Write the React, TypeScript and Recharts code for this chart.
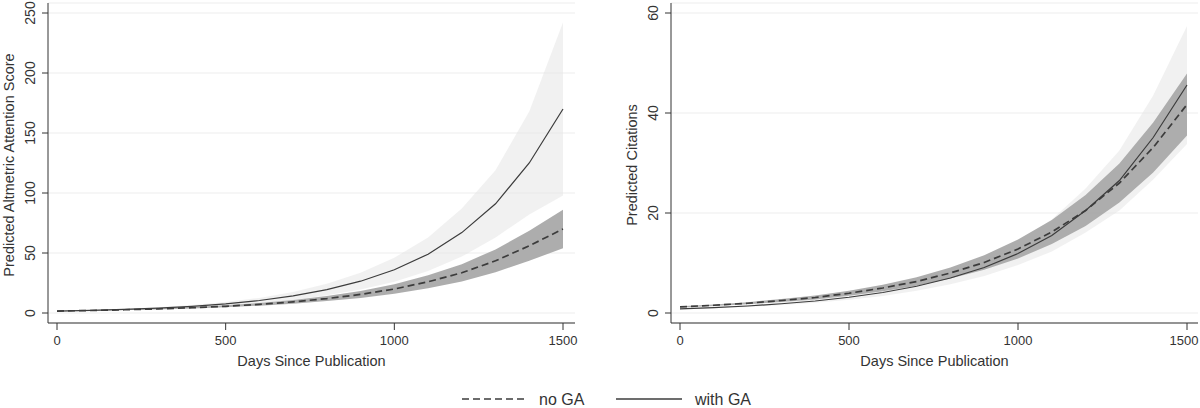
import { ComposedChart, Area, Line, XAxis, YAxis, CartesianGrid } from 'recharts';

// days since publication, margins evaluated every 100 days
const days = [0, 100, 200, 300, 400, 500, 600, 700, 800, 900, 1000, 1100, 1200, 1300, 1400, 1500];

// altmetric attention score
const altNoGa = [1.6, 2.1, 2.7, 3.4, 4.4, 5.6, 7.2, 9.3, 12, 15.5, 20, 26, 33.5, 43.5, 56, 70];
const altNoGaLo = [1.45, 1.9, 2.4, 3.0, 3.8, 4.8, 6.1, 7.8, 9.9, 12.6, 16, 20.6, 26.3, 34, 43.5, 54];
const altNoGaHi = [1.75, 2.3, 3.0, 3.8, 5.0, 6.4, 8.3, 10.8, 14.1, 18.4, 24, 31.4, 40.7, 53, 68.5, 86];
const altGa = [1.6, 2.2, 3.0, 4.1, 5.6, 7.6, 10.4, 14.2, 19.5, 26.5, 36, 49, 67, 91, 125, 170];
const altGaLo = [1.4, 1.85, 2.5, 3.4, 4.6, 6.1, 8.2, 10.9, 14.7, 19.5, 26, 35, 47, 63, 82, 98];
const altGaHi = [1.8, 2.55, 3.5, 4.8, 6.6, 9.1, 12.6, 17.5, 24.3, 33.5, 46, 63, 87, 119, 168, 242];

// citations
const citNoGa = [1.22, 1.55, 1.95, 2.5, 3.1, 3.95, 5.0, 6.3, 8.0, 10.1, 12.8, 16.2, 20.5, 26.0, 33.1, 41.7];
const citNoGaLo = [1.1, 1.38, 1.73, 2.2, 2.72, 3.45, 4.35, 5.45, 6.9, 8.65, 10.9, 13.8, 17.4, 22.1, 28.1, 35.5];
const citNoGaHi = [1.34, 1.72, 2.17, 2.8, 3.48, 4.45, 5.65, 7.15, 9.1, 11.55, 14.7, 18.6, 23.6, 29.9, 38.1, 47.9];
const citGa = [0.83, 1.08, 1.4, 1.85, 2.4, 3.15, 4.1, 5.35, 7.0, 9.1, 11.9, 15.5, 20.5, 26.5, 35.1, 45.6];
const citGaLo = [0.73, 0.94, 1.21, 1.59, 2.04, 2.65, 3.42, 4.43, 5.75, 7.4, 9.6, 12.3, 16.1, 20.5, 26.7, 33.8];
const citGaHi = [0.93, 1.22, 1.59, 2.11, 2.76, 3.65, 4.78, 6.27, 8.25, 10.8, 14.2, 18.7, 24.9, 32.5, 43.5, 57.4];

const xTicks = [0, 500, 1000, 1500];
const altTicks = [0, 50, 100, 150, 200, 250];
const citTicks = [0, 20, 40, 60];

const font = '"Liberation Sans", Arial, sans-serif';
const ink = '#333';

const buildRows = (noGa: number[], noLo: number[], noHi: number[], ga: number[], gaLo: number[], gaHi: number[]) =>
  days.map((day, i) => ({
    day,
    noGa: noGa[i],
    noGaBand: [noLo[i], noHi[i]],
    ga: ga[i],
    gaBand: [gaLo[i], gaHi[i]],
  }));

const altRows = buildRows(altNoGa, altNoGaLo, altNoGaHi, altGa, altGaLo, altGaHi);
const citRows = buildRows(citNoGa, citNoGaLo, citNoGaHi, citGa, citGaLo, citGaHi);

const YTick = (props: any) => {
  const { x, y, payload } = props;
  return (
    <text
      x={x}
      y={y}
      transform={`rotate(-90, ${x}, ${y})`}
      textAnchor="middle"
      fill={ink}
      fontSize={14}
      fontFamily={font}
    >
      {payload.value}
    </text>
  );
};

// keeps the last label inside the panel's right edge
const XTick = (props: any) => {
  const { x, y, payload, maxX } = props;
  const half = (String(payload.value).length * 0.556 * 13) / 2;
  const overflow = x + half > maxX;
  return (
    <text
      x={overflow ? maxX : x}
      y={y}
      dy="0.71em"
      textAnchor={overflow ? 'end' : 'middle'}
      fill={ink}
      fontSize={13}
      fontFamily={font}
    >
      {payload.value}
    </text>
  );
};

interface PanelProps {
  rows: any[];
  yTicks: number[];
  yMax: number;
  yTitle: string;
  left: number;
  marginLeft: number;
  marginRight: number;
  padRight: number;
}

const Panel = ({ rows, yTicks, yMax, yTitle, left, marginLeft, marginRight, padRight }: PanelProps) => (
  <div style={{ position: 'absolute', left, top: 0 }}>
    <ComposedChart
      width={600}
      height={408}
      data={rows}
      margin={{ top: 3, right: marginRight, bottom: 40, left: marginLeft }}
    >
      <CartesianGrid vertical={false} stroke="#ededed" />
      <XAxis
        dataKey="day"
        type="number"
        domain={[0, 1500]}
        ticks={xTicks}
        padding={{ left: 9, right: padRight }}
        height={45}
        tickSize={7}
        tickMargin={6}
        axisLine={{ stroke: ink }}
        tickLine={{ stroke: ink }}
        tick={<XTick maxX={599} />}
        label={{
          value: 'Days Since Publication',
          position: 'insideBottom',
          offset: 2,
          style: { fill: ink, fontSize: 14.5, fontFamily: font },
        }}
      />
      <YAxis
        type="number"
        domain={[0, yMax]}
        ticks={yTicks}
        width={40}
        padding={{ top: 10, bottom: 10 }}
        tickSize={6}
        tickMargin={7}
        axisLine={{ stroke: ink }}
        tickLine={{ stroke: ink }}
        tick={<YTick />}
        label={{
          value: yTitle,
          angle: -90,
          position: 'center',
          dx: -19,
          dy: 2,
          style: { fill: ink, fontSize: 14.5, fontFamily: font, textAnchor: 'middle' },
        }}
      />
      <Area
        dataKey="gaBand"
        type="linear"
        stroke="none"
        fill="#e4e4e4"
        fillOpacity={0.5}
        isAnimationActive={false}
      />
      <Area
        dataKey="noGaBand"
        type="linear"
        stroke="none"
        fill="#a9a9a9"
        fillOpacity={0.95}
        isAnimationActive={false}
      />
      <Line
        dataKey="ga"
        type="linear"
        stroke="#3c3c3c"
        strokeWidth={1.2}
        dot={false}
        isAnimationActive={false}
      />
      <Line
        dataKey="noGa"
        type="linear"
        stroke="#3c3c3c"
        strokeWidth={1.7}
        strokeDasharray="7 4"
        dot={false}
        isAnimationActive={false}
      />
    </ComposedChart>
  </div>
);

export default function App() {
  return (
    <div
      style={{
        position: 'fixed',
        left: 0,
        top: 0,
        width: 1200,
        height: 408,
        background: '#fff',
        fontFamily: font,
        overflow: 'hidden',
      }}
    >
      <Panel
        rows={altRows}
        yTicks={altTicks}
        yMax={250}
        yTitle="Predicted Altmetric Attention Score"
        left={0}
        marginLeft={8}
        marginRight={25}
        padRight={12}
      />
      <Panel
        rows={citRows}
        yTicks={citTicks}
        yMax={60}
        yTitle="Predicted Citations"
        left={600}
        marginLeft={31}
        marginRight={2}
        padRight={11}
      />
      <svg
        width={1200}
        height={28}
        style={{ position: 'absolute', left: 0, top: 380 }}
      >
        <line x1={462} y1={19} x2={528} y2={19} stroke="#3c3c3c" strokeWidth={1.7} strokeDasharray="7 4" />
        <text x={539} y={25} fontSize={16} fill={ink} fontFamily={font}>
          no GA
        </text>
        <line x1={616} y1={19} x2={682} y2={19} stroke="#3c3c3c" strokeWidth={1.4} />
        <text x={695} y={25} fontSize={16} fill={ink} fontFamily={font}>
          with GA
        </text>
      </svg>
    </div>
  );
}
